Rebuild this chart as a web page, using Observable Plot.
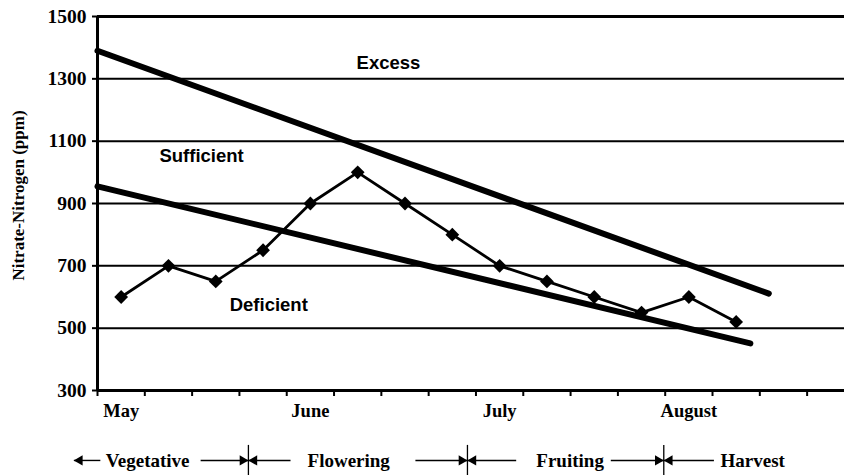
<!DOCTYPE html>
<html>
<head>
<meta charset="utf-8">
<script src="https://cdn.jsdelivr.net/npm/d3@7"></script>
<script src="https://cdn.jsdelivr.net/npm/@observablehq/plot@0.6"></script>
<style>
  html, body { margin: 0; padding: 0; background: #fff; }
  #chart svg { display: block; }
</style>
</head>
<body>
<div id="chart"></div>
<script>
// ---- data ----
const weeks = [0, 1, 2, 3, 4, 5, 6, 7, 8, 9, 10, 11, 12, 13];
const nitrate = [600, 700, 650, 750, 900, 1000, 900, 800, 700, 650, 600, 550, 600, 520];

const months = ["May", "June", "July", "August"];
const monthPos = [0, 4, 8, 12];

const yTicks = [300, 500, 700, 900, 1100, 1300, 1500];
const xTickBounds = [-0.5, 0.5, 1.5, 2.5, 3.5, 4.5, 5.5, 6.5, 7.5, 8.5, 9.5, 10.5, 11.5, 12.5, 13.5, 14.5];

// threshold lines
const excessX = [-0.5, 13.69];
const excessY = [1390, 611];
const deficientX = [-0.5, 13.3];
const deficientY = [955, 451];

// zone labels
const zoneLabels = ["Excess", "Sufficient", "Deficient"];
const zoneX = [5.65, 1.70, 3.12];
const zoneY = [1349, 1051, 573];

// growth phases
const phases = ["Vegetative", "Flowering", "Fruiting", "Harvest"];
const phaseX = [0.56, 4.81, 9.49, 13.35];
const dividers = [2.69, 7.32, 11.47];
const rightFrom = [1.68, 6.22, 10.35];
const rightTo = [2.69, 7.32, 11.47];
const leftFrom = [-0.44, 3.58, 8.35, 12.53];
const leftTo = [-1.0, 2.69, 7.32, 11.47];

// ---- build ----
const W = 844;
const xDomain = [-0.5, 15.29];
const serif = "'Liberation Serif', 'Times New Roman', serif";
const sans = "'Liberation Sans', Arial, sans-serif";

const series = weeks.map((w, i) => ({x: w, y: nitrate[i]}));
const excess = excessX.map((x, i) => ({x, y: excessY[i]}));
const deficient = deficientX.map((x, i) => ({x, y: deficientY[i]}));
const zones = zoneLabels.map((t, i) => ({t, x: zoneX[i], y: zoneY[i]}));
const monthData = months.map((m, i) => ({m, x: monthPos[i]}));

const main = Plot.plot({
  width: W,
  height: 440,
  marginTop: 16,
  marginBottom: 50,
  marginLeft: 97,
  marginRight: 0,
  style: {background: "#fff", color: "#000", overflow: "visible"},
  x: {type: "linear", domain: xDomain},
  y: {domain: [300, 1500]},
  marks: [
    Plot.gridY(yTicks, {stroke: "#000", strokeOpacity: 1, strokeWidth: 2}),
    Plot.ruleY([1500], {stroke: "#000", strokeWidth: 3}),
    Plot.axisY(yTicks, {
      tickSize: 5, tickPadding: 6, strokeWidth: 2, tickFormat: (d) => String(d),
      fontSize: 19.5, fontWeight: "bold", fontFamily: serif, label: null
    }),
    Plot.axisX(xTickBounds, {tickSize: 6, strokeWidth: 2, tickFormat: () => "", label: null}),
    Plot.text(monthData, {
      x: "x", text: "m", frameAnchor: "bottom", dy: 26,
      fontSize: 18.5, fontWeight: "bold", fontFamily: serif, fill: "#000"
    }),
    Plot.text(["Nitrate-Nitrogen (ppm)"], {
      frameAnchor: "left", textAnchor: "middle", dx: -79, dy: -8, rotate: -90,
      fontSize: 17, fontWeight: "bold", fontFamily: serif, fill: "#000"
    }),
    Plot.ruleX([-0.5], {stroke: "#000", strokeWidth: 3}),
    Plot.ruleY([300], {stroke: "#000", strokeWidth: 3}),
    Plot.line(excess, {x: "x", y: "y", stroke: "#000", strokeWidth: 6}),
    Plot.line(deficient, {x: "x", y: "y", stroke: "#000", strokeWidth: 6}),
    Plot.line(series, {x: "x", y: "y", stroke: "#000", strokeWidth: 2.8}),
    Plot.dot(series, {x: "x", y: "y", symbol: "diamond2", r: 6.2, fill: "#000", stroke: "none"}),
    Plot.text(zones, {
      x: "x", y: "y", text: "t",
      fontSize: 18.5, fontWeight: "bold", fontFamily: sans, fill: "#000"
    })
  ]
});

const phaseData = phases.map((p, i) => ({p, x: phaseX[i]}));
const rightArrows = rightFrom.map((x1, i) => ({x1, x2: rightTo[i]}));
const leftArrows = leftFrom.map((x1, i) => ({x1, x2: leftTo[i]}));

const phasePlot = Plot.plot({
  width: W,
  height: 35,
  marginTop: 0,
  marginBottom: 0,
  marginLeft: 97,
  marginRight: 0,
  style: {background: "#fff", color: "#000", overflow: "visible"},
  x: {type: "linear", domain: xDomain, axis: null},
  y: {domain: [0, 1], axis: null},
  marks: [
    Plot.ruleX(dividers, {y1: 0, y2: 0.86, stroke: "#000", strokeWidth: 1.3}),
    Plot.link(rightArrows, {x1: "x1", x2: "x2", y1: 0.43, y2: 0.43, stroke: "#000", strokeWidth: 1.4}),
    Plot.link(leftArrows, {x1: "x1", x2: "x2", y1: 0.43, y2: 0.43, stroke: "#000", strokeWidth: 1.4}),
    Plot.dot(rightArrows, {x: "x2", y: 0.43, symbol: "triangle", r: 3.8, rotate: 90, dx: -5.8, fill: "#000", stroke: "none"}),
    Plot.dot(leftArrows, {x: "x2", y: 0.43, symbol: "triangle", r: 3.8, rotate: -90, dx: 5.8, fill: "#000", stroke: "none"}),
    Plot.text(phaseData, {
      x: "x", y: 0.43, text: "p",
      fontSize: 19, fontWeight: "bold", fontFamily: serif, fill: "#000"
    })
  ]
});

const el = document.getElementById("chart");
el.appendChild(main);
el.appendChild(phasePlot);
</script>
</body>
</html>
